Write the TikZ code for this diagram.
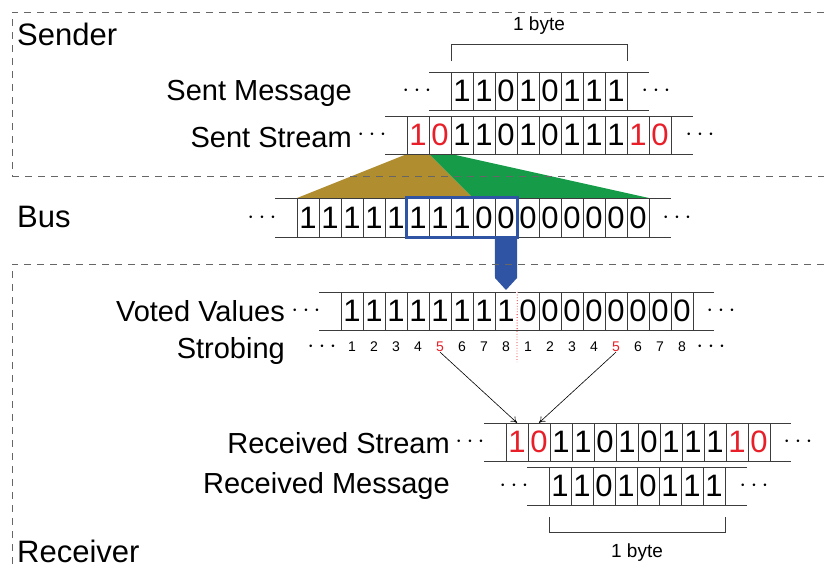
\documentclass[tikz,border=0pt]{standalone}
\usepackage{fontspec}
\setmainfont{Liberation Sans}
\usetikzlibrary{arrows.meta}

\definecolor{bitred}{RGB}{232,30,40}
\definecolor{boxblue}{RGB}{48,84,164}
\definecolor{wedgebrown}{RGB}{176,142,48}
\definecolor{wedgegreen}{RGB}{22,156,72}
\definecolor{cellgray}{RGB}{60,60,60}

\begin{document}
\begin{tikzpicture}[
        x=1pt, y=-1pt,
        bit/.style={
            draw=cellgray,
            minimum width=22pt,
            minimum height=38pt,
            inner sep=0pt,
            font=\fontsize{31}{32}\selectfont},
        rowline/.style={draw=cellgray},
        dotsstyle/.style={inner sep=0pt, font=\fontsize{26}{28}\selectfont},
        rowlabel/.style={anchor=base east, inner sep=0pt, font=\fontsize{29}{32}\selectfont},
        sectlabel/.style={anchor=base west, inner sep=0pt, font=\fontsize{31}{34}\selectfont},
        strobe/.style={inner sep=0pt, font=\fontsize{14}{16}\selectfont},
        sect/.style={draw=black!60, dash pattern=on 7pt off 6pt},
        bracket/.style={draw=cellgray, thick}
        ]

        \useasboundingbox (0,0) rectangle (824,568);

        % invisible anchors for the bus samples, so the wedges can use them
        \foreach \i in {1,...,16} {
            \coordinate (bt\i) at ({297+22*\i-11}, 217.5);
        }

        % wedges from the sent bits onto the bus samples
        \fill[wedgebrown] (407,154) -- (429,154) -- (473,198) -- (297,198) -- cycle;
        \fill[wedgegreen] (429,154) -- (451,154) -- (649,198) -- (473,198) -- cycle;

        % sent message
        \draw[rowline] (429,72) -- (649,72);
        \draw[rowline] (429,110) -- (649,110);
        \foreach \b [count=\i] in {1,1,0,1,0,1,1,1} {
            \node[bit] (sm\i) at ({451+22*\i-11}, 91) {\b};
        }
        \node[dotsstyle] (smleft) at (417,91) {$\cdots$};
        \node[dotsstyle] (smright) at (656,91) {$\cdots$};

        % sent stream
        \draw[rowline] (385,116) -- (693,116);
        \draw[rowline] (385,154) -- (693,154);
        \foreach \b/\c [count=\i] in {1/bitred,0/bitred,1/black,1/black,0/black,1/black,0/black,1/black,1/black,1/black,1/bitred,0/bitred} {
            \node[bit, text=\c] (ss\i) at ({407+22*\i-11}, 135) {\b};
        }
        \node[dotsstyle] (ssleft) at (372,135) {$\cdots$};
        \node[dotsstyle] (ssright) at (700,135) {$\cdots$};

        % bus
        \draw[rowline] (275,198) -- (671,198);
        \draw[rowline] (275,237) -- (671,237);
        \foreach \b [count=\i] in {1,1,1,1,1,1,1,1,0,0,0,0,0,0,0,0} {
            \node[bit, minimum height=39pt] (bus\i) at (bt\i) {\b};
        }
        \node[dotsstyle] (busleft) at (262,217.5) {$\cdots$};
        \node[dotsstyle] (busright) at (677,217.5) {$\cdots$};

        % majority window and its arrow
        \draw[boxblue, line width=3pt] (bus6.north west) rectangle (bus10.south east);
        \fill[boxblue] (bus10.south west) -- (bus10.south east) -- (517,278) -- (506,290) -- (495,278) -- cycle;

        % voted values
        \draw[rowline] (319,292) -- (714,292);
        \draw[rowline] (319,330) -- (714,330);
        \foreach \b [count=\i] in {1,1,1,1,1,1,1,1,0,0,0,0,0,0,0,0} {
            \node[bit] (vv\i) at ({341+22*\i-11}, 311) {\b};
        }
        \draw[white, line width=1.5pt] (vv8.north east) -- (vv8.south east);
        \draw[bitred, dotted, thick] (vv8.north east) -- (517,362);
        \node[dotsstyle] (vvleft) at (306,311) {$\cdots$};
        \node[dotsstyle] (vvright) at (721,311) {$\cdots$};

        % strobing
        \foreach \n/\c [count=\i] in {1/black,2/black,3/black,4/black,5/bitred,6/black,7/black,8/black,1/black,2/black,3/black,4/black,5/bitred,6/black,7/black,8/black} {
            \node[strobe, text=\c] (st\i) at ({341+22*\i-11}, 347) {\n};
        }
        \node[dotsstyle] (stleft) at (322,347) {$\cdots$};
        \node[dotsstyle] (stright) at (711,347) {$\cdots$};

        % received stream
        \draw[rowline] (484,423) -- (791,423);
        \draw[rowline] (484,461) -- (791,461);
        \foreach \b/\c [count=\i] in {1/bitred,0/bitred,1/black,1/black,0/black,1/black,0/black,1/black,1/black,1/black,1/bitred,0/bitred} {
            \node[bit, text=\c] (rs\i) at ({506+22*\i-11}, 442) {\b};
        }
        \node[dotsstyle] (rsleft) at (470,442) {$\cdots$};
        \node[dotsstyle] (rsright) at (798,442) {$\cdots$};

        % received message
        \draw[rowline] (527,467) -- (747,467);
        \draw[rowline] (527,505) -- (747,505);
        \foreach \b [count=\i] in {1,1,0,1,0,1,1,1} {
            \node[bit] (rm\i) at ({549+22*\i-11}, 486) {\b};
        }
        \node[dotsstyle] (rmleft) at (514,486) {$\cdots$};
        \node[dotsstyle] (rmright) at (754,486) {$\cdots$};

        % sampling points
        \draw[-{To[length=6pt,width=7pt]}, semithick] (st5.south) -- (rs1.north);
        \draw[-{To[length=6pt,width=7pt]}, semithick] (st13.south) -- (rs2.north);

        % byte brackets
        \draw[bracket] (451,61) -- (451,44) -- (627,44) -- (627,61);
        \node[anchor=base, inner sep=0pt, font=\fontsize{19}{21}\selectfont] (bytetop) at (539,30) {1 byte};
        \draw[bracket] (549,517) -- (549,532) -- (725,532) -- (725,517);
        \node[anchor=base, inner sep=0pt, font=\fontsize{19}{21}\selectfont] (bytebottom) at (637,557) {1 byte};

        % labels
        \node[sectlabel] (sender) at (17,45) {Sender};
        \node[sectlabel] (bus) at (17,227) {Bus};
        \node[sectlabel] (receiver) at (17,562) {Receiver};
        \node[rowlabel] (sentmsg) at (352,100) {Sent Message};
        \node[rowlabel] (sentstream) at (352,147) {Sent Stream};
        \node[rowlabel] (voted) at (285,321) {Voted Values};
        \node[rowlabel] (strobing) at (285,358) {Strobing};
        \node[rowlabel] (recstream) at (450,453) {Received Stream};
        \node[rowlabel] (recmsg) at (450,493) {Received Message};

        % sections
        \draw[sect] (824,12) -- (12,12) -- (12,176);
        \draw[sect] (12,176) -- (824,176);
        \draw[sect] (824,264) -- (12,264) -- (12,568);

    \end{tikzpicture}
\end{document}
